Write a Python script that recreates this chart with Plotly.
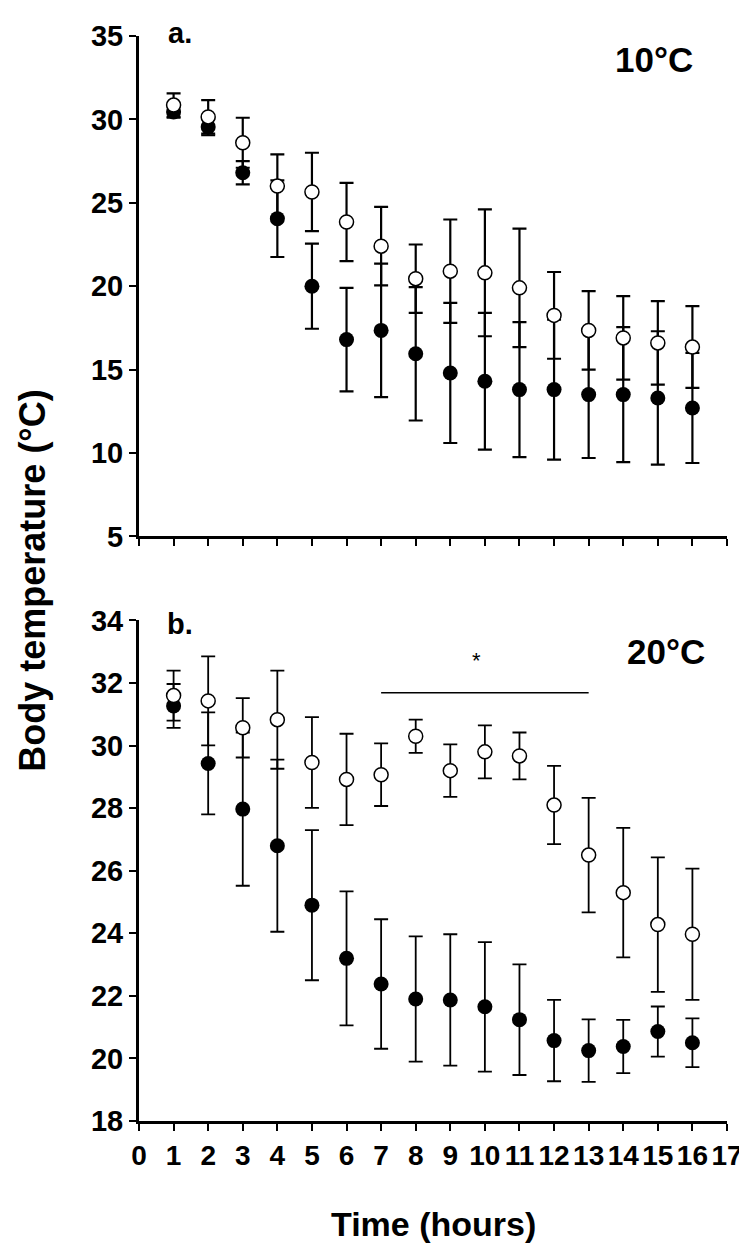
import plotly.graph_objects as go
from plotly.subplots import make_subplots

hours = list(range(1, 17))

# Panel a: 10°C
open10_mean = [30.86, 30.15, 28.6, 26.0, 25.65, 23.85, 22.4, 20.45, 20.9, 20.8, 19.9, 18.25, 17.35, 16.9, 16.6, 16.35]
open10_sd = [0.7, 1.0, 1.5, 1.9, 2.35, 2.35, 2.35, 2.05, 3.1, 3.8, 3.55, 2.6, 2.35, 2.5, 2.5, 2.45]
filled10_mean = [30.45, 29.55, 26.8, 24.05, 20.0, 16.8, 17.35, 15.95, 14.8, 14.3, 13.8, 13.8, 13.5, 13.5, 13.3, 12.7]
filled10_sd = [0.35, 0.5, 0.7, 2.3, 2.55, 3.1, 4.0, 4.0, 4.2, 4.1, 4.05, 4.2, 3.8, 4.05, 4.0, 3.3]

# Panel b: 20°C
open20_mean = [31.6, 31.43, 30.57, 30.83, 29.46, 28.92, 29.07, 30.3, 29.2, 29.8, 29.67, 28.1, 26.5, 25.3, 24.28, 23.97]
open20_sd = [0.8, 1.42, 0.95, 1.57, 1.45, 1.46, 1.0, 0.53, 0.84, 0.85, 0.75, 1.25, 1.83, 2.07, 2.15, 2.1]
filled20_mean = [31.27, 29.43, 27.97, 26.8, 24.9, 23.2, 22.38, 21.9, 21.87, 21.65, 21.24, 20.57, 20.25, 20.38, 20.86, 20.5]
filled20_sd = [0.7, 1.63, 2.45, 2.75, 2.4, 2.14, 2.07, 2.0, 2.1, 2.07, 1.77, 1.3, 1.0, 0.85, 0.8, 0.78]

sig_start, sig_end, sig_level = 7, 13, 31.69

x_ticks = list(range(0, 18))
y_ticks_a = list(range(5, 36, 5))
y_ticks_b = list(range(18, 35, 2))

FONT = "Liberation Sans, Arial, sans-serif"

fig = make_subplots(rows=2, cols=1, vertical_spacing=0.0775)

def add_pair(row, om, osd, fm, fsd, thick):
    fig.add_trace(go.Scatter(
        x=hours, y=fm, mode="markers",
        marker=dict(symbol="circle", size=15, color="black", line=dict(color="black", width=0)),
        error_y=dict(type="data", array=fsd, visible=True, color="black", thickness=thick, width=7),
        showlegend=False), row=row, col=1)
    fig.add_trace(go.Scatter(
        x=hours, y=om, mode="markers",
        marker=dict(symbol="circle", size=14, color="white", line=dict(color="black", width=1.5)),
        error_y=dict(type="data", array=osd, visible=True, color="black", thickness=thick, width=7),
        showlegend=False), row=row, col=1)

add_pair(1, open10_mean, open10_sd, filled10_mean, filled10_sd, 2.2)
add_pair(2, open20_mean, open20_sd, filled20_mean, filled20_sd, 1.8)

# significance bar
fig.add_trace(go.Scatter(x=[sig_start, sig_end], y=[sig_level, sig_level], mode="lines",
                         line=dict(color="black", width=1.3), showlegend=False, hoverinfo="skip"),
              row=2, col=1)

axis_common = dict(showline=True, linecolor="black", linewidth=3, ticks="outside",
                   ticklen=7, tickwidth=2, tickcolor="black", showgrid=False, zeroline=False)

fig.update_xaxes(range=[0, 17], tickvals=x_ticks, **axis_common,
                 tickfont=dict(family=FONT, size=28, color="black", weight="bold"))
fig.update_xaxes(showticklabels=False, row=1, col=1)
fig.update_yaxes(**axis_common, tickfont=dict(family=FONT, size=29, color="black", weight="bold"))
fig.update_yaxes(range=[5, 35], tickvals=y_ticks_a, row=1, col=1)
fig.update_yaxes(range=[18, 34], tickvals=y_ticks_b, row=2, col=1)

fig.update_layout(
    width=747, height=1245,
    margin=dict(l=131, r=24, t=16, b=132),
    plot_bgcolor="white", paper_bgcolor="white",
    yaxis=dict(domain=[0.5388, 1.0]),
    yaxis2=dict(domain=[0.0, 0.4613]),
)

annos = [
    dict(text="a.", x=0.07, y=1.003, xref="paper", yref="paper", xanchor="center", yanchor="middle",
         font=dict(family=FONT, size=29, color="black", weight="bold"), showarrow=False),
    dict(text="10°C", x=(650 - 131) / 592, y=(1113 - 40) / 1097, xref="paper", yref="paper",
         xanchor="center", yanchor="middle",
         font=dict(family=FONT, size=35, color="black", weight="bold"), showarrow=False),
    dict(text="b.", x=0.07, y=(1113 - 610) / 1097, xref="paper", yref="paper", xanchor="center", yanchor="middle",
         font=dict(family=FONT, size=29, color="black", weight="bold"), showarrow=False),
    dict(text="20°C", x=(662 - 131) / 592, y=(1113 - 638) / 1097, xref="paper", yref="paper",
         xanchor="center", yanchor="middle",
         font=dict(family=FONT, size=35, color="black", weight="bold"), showarrow=False),
    dict(text="*", x=(471 - 131) / 592, y=(1113 - 647) / 1097, xref="paper", yref="paper",
         xanchor="center", yanchor="middle",
         font=dict(family=FONT, size=22, color="black"), showarrow=False),
    dict(text="Time (hours)", x=(427 - 131) / 592, y=(1113 - 1217) / 1097, xref="paper", yref="paper",
         xanchor="center", yanchor="middle",
         font=dict(family=FONT, size=34, color="black", weight="bold"), showarrow=False),
    dict(text="Body temperature (°C)", x=(24 - 131) / 592, y=(1113 - 567) / 1097, xref="paper", yref="paper",
         xanchor="center", yanchor="middle", textangle=-90,
         font=dict(family=FONT, size=36, color="black", weight="bold"), showarrow=False),
]
fig.update_layout(annotations=annos)

fig.write_html("out.html")
